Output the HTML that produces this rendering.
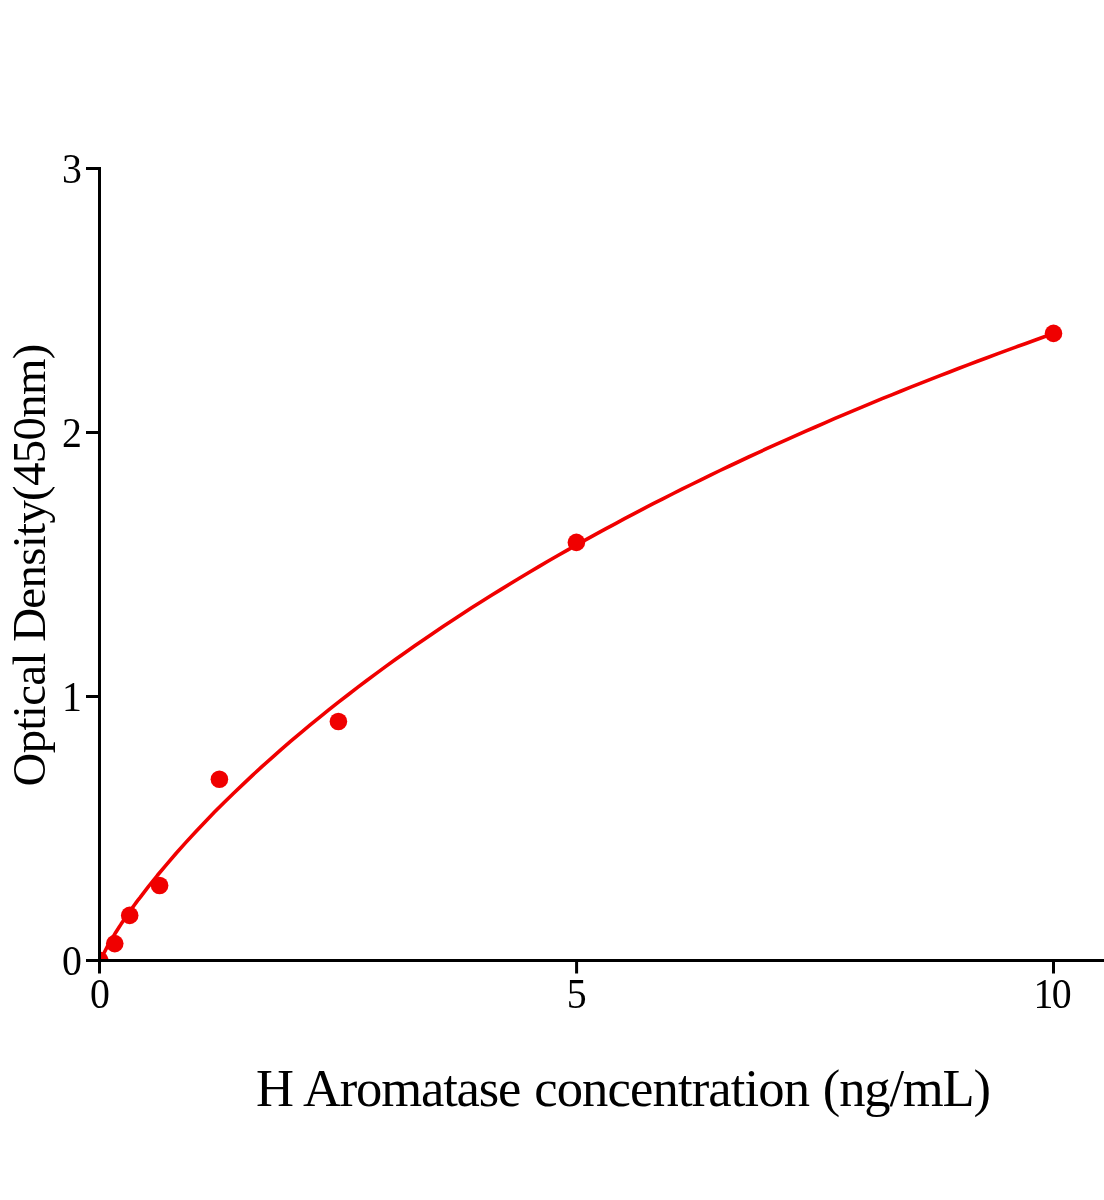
<!DOCTYPE html>
<html lang="en">
<head>
<meta charset="utf-8">
<title>H Aromatase ELISA standard curve</title>
<style>
  html, body { margin: 0; padding: 0; background: #ffffff; }
  body { width: 1104px; height: 1200px; overflow: hidden; }
  svg { display: block; will-change: transform; }
  text { font-family: "Liberation Serif", "Times New Roman", Times, serif; fill: #000000; }
  .tick { font-size: 42.8px; }
  .xtitle { font-size: 52.6px; }
  .ytitle { font-size: 46.8px; }
</style>
</head>
<body>
<svg width="1104" height="1200" viewBox="0 0 1104 1200">
  <rect x="0" y="0" width="1104" height="1200" fill="#ffffff"/>
  <defs>
    <clipPath id="plotclip"><rect x="101" y="0" width="1003" height="959"/></clipPath>
  </defs>

  <!-- fitted curve -->
  <g clip-path="url(#plotclip)">
    <path d="M100.1,962.3 L102.0,957.2 L103.9,953.2 L105.8,949.5 L107.7,945.9 L109.6,942.6 L111.5,939.3 L113.5,936.1 L115.4,933.0 L117.3,930.0 L119.2,927.1 L121.1,924.1 L123.0,921.3 L124.9,918.5 L126.8,915.7 L128.7,913.0 L130.6,910.3 L132.5,907.6 L134.4,905.0 L136.3,902.4 L138.2,899.8 L140.2,897.3 L142.1,894.8 L144.0,892.3 L145.9,889.8 L147.8,887.4 L157.3,875.5 L166.9,864.1 L176.4,853.0 L185.9,842.4 L195.5,832.0 L205.0,821.9 L214.5,812.1 L224.1,802.5 L233.6,793.2 L243.2,784.1 L252.7,775.1 L262.2,766.4 L271.8,757.8 L281.3,749.4 L290.8,741.2 L300.4,733.1 L309.9,725.1 L319.5,717.3 L329.0,709.6 L338.5,702.1 L348.1,694.7 L357.6,687.4 L367.1,680.2 L376.7,673.1 L386.2,666.1 L395.7,659.2 L405.3,652.5 L414.8,645.8 L424.4,639.2 L433.9,632.7 L443.4,626.3 L453.0,620.0 L462.5,613.8 L472.0,607.6 L481.6,601.5 L491.1,595.5 L500.7,589.6 L510.2,583.7 L519.7,578.0 L529.3,572.3 L538.8,566.6 L548.3,561.0 L557.9,555.5 L567.4,550.1 L576.9,544.7 L586.5,539.4 L596.0,534.1 L605.6,528.9 L615.1,523.8 L624.6,518.7 L634.2,513.6 L643.7,508.6 L653.2,503.7 L662.8,498.8 L672.3,494.0 L681.9,489.2 L691.4,484.5 L700.9,479.8 L710.5,475.1 L720.0,470.5 L729.5,466.0 L739.1,461.5 L748.6,457.0 L758.2,452.6 L767.7,448.2 L777.2,443.9 L786.8,439.6 L796.3,435.4 L805.8,431.1 L815.4,427.0 L824.9,422.8 L834.4,418.7 L844.0,414.6 L853.5,410.6 L863.1,406.6 L872.6,402.7 L882.1,398.7 L891.7,394.8 L901.2,391.0 L910.7,387.2 L920.3,383.4 L929.8,379.6 L939.4,375.9 L948.9,372.2 L958.4,368.5 L968.0,364.9 L977.5,361.3 L987.0,357.7 L996.6,354.1 L1006.1,350.6 L1015.7,347.1 L1025.2,343.7 L1034.7,340.2 L1044.3,336.8 L1053.8,333.4" fill="none" stroke="#f00000" stroke-width="3.6" stroke-linejoin="round" stroke-linecap="butt"/>
  </g>

  <!-- data points -->
  <g fill="#f00000" clip-path="url(#plotclip)">
    <circle cx="99.8" cy="960.5" r="8.8"/>
    <circle cx="114.75" cy="943.6" r="8.8"/>
    <circle cx="129.7" cy="915.4" r="8.8"/>
    <circle cx="159.6" cy="885.45" r="8.8"/>
    <circle cx="219.4" cy="779.3" r="8.8"/>
    <circle cx="338.4" cy="721.5" r="8.8"/>
    <circle cx="576.4" cy="542.4" r="8.8"/>
    <circle cx="1053.5" cy="333.4" r="8.8"/>
  </g>

  <!-- axes -->
  <g stroke="#000000" stroke-width="3" fill="none" stroke-linecap="butt">
    <!-- y axis -->
    <line x1="99.5" y1="167" x2="99.5" y2="973.5"/>
    <!-- x axis -->
    <line x1="86" y1="960.5" x2="1104" y2="960.5"/>
    <!-- y ticks -->
    <line x1="86" y1="168.5" x2="101" y2="168.5"/>
    <line x1="86" y1="432.5" x2="101" y2="432.5"/>
    <line x1="86" y1="696.5" x2="101" y2="696.5"/>
    <!-- x ticks -->
    <line x1="576.6" y1="960" x2="576.6" y2="973.5"/>
    <line x1="1053.5" y1="960" x2="1053.5" y2="973.5"/>
  </g>

  <!-- y tick labels -->
  <g class="tick" text-anchor="end">
    <text x="82" y="182.6" textLength="19.9" lengthAdjust="spacingAndGlyphs">3</text>
    <text x="82" y="446.6" textLength="19.9" lengthAdjust="spacingAndGlyphs">2</text>
    <text x="82" y="710.6" textLength="19.9" lengthAdjust="spacingAndGlyphs">1</text>
    <text x="82" y="974.6" textLength="19.9" lengthAdjust="spacingAndGlyphs">0</text>
  </g>

  <!-- x tick labels -->
  <g class="tick" text-anchor="middle">
    <text x="100" y="1008.2" textLength="19.9" lengthAdjust="spacingAndGlyphs">0</text>
    <text x="576.6" y="1008.2" textLength="19.9" lengthAdjust="spacingAndGlyphs">5</text>
    <text y="1008.2" text-anchor="start"><tspan x="1033.5" textLength="19.9" lengthAdjust="spacingAndGlyphs">1</tspan><tspan x="1051.7" textLength="19.9" lengthAdjust="spacingAndGlyphs">0</tspan></text>
  </g>

  <!-- axis titles -->
  <g class="xtitle">
    <text x="256" y="1106.2">H</text>
    <text x="302.9" y="1106.2" letter-spacing="-1.16">Aromatase</text>
    <text x="534.2" y="1106.2" letter-spacing="-0.86">concentration</text>
    <text x="822.8" y="1106.2" letter-spacing="-1.17">(ng/mL)</text>
  </g>
  <g class="ytitle">
    <text transform="translate(45 786.5) rotate(-90)" letter-spacing="-0.63">Optical</text>
    <text transform="translate(45 641.8) rotate(-90)" letter-spacing="-0.666">Density(450nm)</text>
  </g>
</svg>
</body>
</html>
